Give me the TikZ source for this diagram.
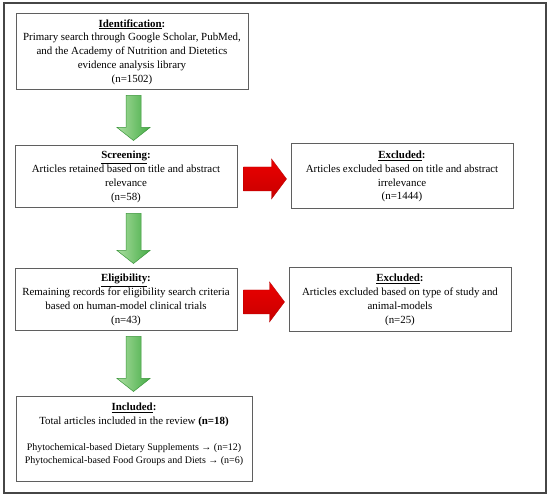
\documentclass[tikz,border=0pt]{standalone}
\usepackage{fontspec}
\setmainfont{Liberation Serif}
\usetikzlibrary{calc}
\definecolor{boxgray}{RGB}{95,95,95}
\definecolor{framegray}{RGB}{70,70,70}
\definecolor{gLight}{RGB}{170,222,160}
\definecolor{gDark}{RGB}{70,172,70}
\definecolor{gEdge}{RGB}{60,150,60}
\definecolor{rTop}{RGB}{235,0,0}
\definecolor{rBot}{RGB}{200,0,0}
\definecolor{rEdge}{RGB}{185,0,0}
\newcommand{\ttl}[1]{\textbf{\underline{#1}:}}
\newcommand{\garrow}[2]{%
  \shade[left color=gLight, right color=gDark, draw=gEdge, line width=0.5pt]
    let \p1=#1, \p2=#2 in
    (126,{\y1-5pt}) -- (141,{\y1-5pt}) -- (141,{\y2+18pt}) -- (150,{\y2+18pt})
    -- (133.5,{\y2+5pt}) -- (117,{\y2+18pt}) -- (126,{\y2+18pt}) -- cycle;}
\newcommand{\rarrow}[2]{%
  \shade[top color=rTop, bottom color=rBot, draw=rEdge, line width=0.4pt]
    let \p1=#1, \p2=#2 in
    ({\x1+6pt},{\y1-2pt+12pt}) -- ({\x2-19pt},{\y1-2pt+12pt}) -- ({\x2-19pt},{\y1-2pt+20pt})
    -- ({\x2-4pt},{\y1-2pt}) -- ({\x2-19pt},{\y1-2pt-20pt}) -- ({\x2-19pt},{\y1-2pt-12pt})
    -- ({\x1+6pt},{\y1-2pt-12pt}) -- cycle;}
\tikzset{
  box/.style={draw=boxgray, line width=1pt, align=center, inner sep=0pt,
    font=\fontsize{10.9}{13.8}\selectfont, fill=white},
  txt/.style={align=center, inner sep=0pt, font=\fontsize{10.9}{13.8}\selectfont}
}
\begin{document}
\begin{tikzpicture}[x=1pt,y=-1pt]
\useasboundingbox (0,0) rectangle (550,497);
\fill[white] (0,0) rectangle (550,497);
\draw[framegray, line width=1.5pt] (4,3) rectangle (546,493);

\node[box, minimum width=232pt, minimum height=76pt] (ident) at (132,52)
  {\ttl{Identification}\\Primary search through Google Scholar, PubMed,\\and the Academy of Nutrition and Dietetics\\evidence analysis library\\(n=1502)};
\node[box, minimum width=222pt, minimum height=62pt] (screen) at (126,177)
  {\ttl{Screening}\\Articles retained based on title and abstract\\relevance\\(n=58)};
\node[box, minimum width=222pt, minimum height=65pt] (excl1) at (402,176.5)
  {\ttl{Excluded}\\Articles excluded based on title and abstract\\irrelevance\\(n=1444)};
\node[box, minimum width=222pt, minimum height=62pt] (elig) at (126,300)
  {\ttl{Eligibility}\\Remaining records for eligibility search criteria\\based on human-model clinical trials\\(n=43)};
\node[box, minimum width=222pt, minimum height=64pt] (excl2) at (400,300)
  {\ttl{Excluded}\\Articles excluded based on type of study and\\animal-models\\(n=25)};
\node[box, minimum width=236pt, minimum height=85pt] (incl) at (134,439.5) {};
\node[txt] (incltxt) at ($(incl.center)+(0,-5)$)
  {\ttl{Included}\\Total articles included in the review \textbf{(n=18)}\\[12pt]
   {\fontsize{10}{12}\selectfont Phytochemical-based Dietary Supplements → (n=12)}\\
   {\fontsize{10}{12}\selectfont Phytochemical-based Food Groups and Diets → (n=6)}};

\garrow{(ident.south)}{(screen.north)}
\garrow{(screen.south)}{(elig.north)}
\garrow{(elig.south)}{(incl.north)}
\rarrow{(screen.east)}{(excl1.west)}
\rarrow{(elig.east)}{(excl2.west)}
\end{tikzpicture}
\end{document}
